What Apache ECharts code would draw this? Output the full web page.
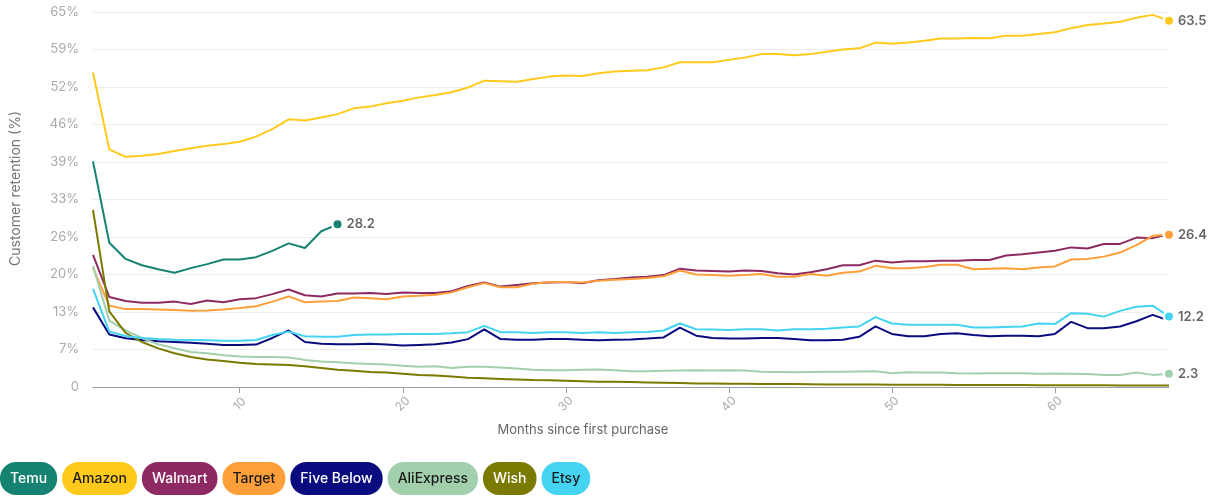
<!DOCTYPE html>
<html><head><meta charset="utf-8">
<script src="https://cdn.jsdelivr.net/npm/echarts@6/dist/echarts.min.js"></script>
<style>html,body{margin:0;padding:0;background:#fff}#c{width:1213px;height:496px}</style>
</head><body><div id="c"></div>
<script>
const months = [1,2,3,4,5,6,7,8,9,10,11,12,13,14,15,16,17,18,19,20,21,22,23,24,25,26,27,28,29,30,31,32,33,34,35,36,37,38,39,40,41,42,43,44,45,46,47,48,49,50,51,52,53,54,55,56,57,58,59,60,61,62,63,64,65,66,67];
const xTicks = [10,20,30,40,50,60];

const temu = [39.1,25.0,22.2,21.1,20.4,19.8,20.6,21.3,22.1,22.1,22.5,23.6,24.9,24.1,27.0,28.2];
const amazon = [54.5,41.2,39.9,40.1,40.4,40.9,41.4,41.8,42.1,42.5,
  43.4,44.7,46.4,46.2,46.7,47.3,48.3,48.6,49.2,49.6,
  50.2,50.6,51.1,51.9,53.1,53.0,52.9,53.4,53.8,54.0,
  53.9,54.4,54.7,54.8,54.9,55.4,56.3,56.3,56.3,56.7,
  57.1,57.7,57.7,57.5,57.7,58.1,58.5,58.7,59.7,59.5,
  59.7,60.0,60.4,60.4,60.5,60.45,60.9,60.9,61.2,61.5,
  62.2,62.75,63.0,63.3,64.0,64.5,63.5];
const walmart = [22.9,15.6,14.9,14.6,14.6,14.8,14.4,15.0,14.7,15.2,
  15.4,16.1,16.9,15.9,15.7,16.2,16.2,16.3,16.1,16.4,
  16.3,16.3,16.6,17.5,18.1,17.4,17.7,18.0,18.1,18.2,
  18.0,18.5,18.7,19.0,19.1,19.4,20.5,20.2,20.1,20.0,
  20.2,20.1,19.7,19.5,19.9,20.4,21.1,21.1,21.9,21.6,
  21.8,21.8,21.9,21.9,22.0,22.0,22.8,23.0,23.3,23.6,
  24.2,24.0,24.8,24.8,25.9,25.8,26.5];
const target = [20.6,14.1,13.5,13.5,13.45,13.35,13.2,13.25,13.45,13.7,
  14.0,14.8,15.7,14.7,14.8,14.9,15.5,15.4,15.2,15.7,
  15.8,16.0,16.4,17.3,18.0,17.3,17.3,17.9,18.2,18.2,
  18.1,18.4,18.6,18.7,18.9,19.2,20.2,19.5,19.4,19.3,
  19.4,19.6,19.1,19.1,19.6,19.3,19.8,20.0,21.0,20.6,
  20.6,20.8,21.2,21.2,20.4,20.5,20.6,20.4,20.7,20.9,
  22.1,22.2,22.6,23.3,24.6,26.2,26.4];
const fiveBelow = [13.8,9.1,8.45,8.15,7.95,7.8,7.65,7.5,7.3,7.3,
  7.35,8.5,9.8,7.8,7.5,7.4,7.4,7.5,7.35,7.2,
  7.3,7.4,7.7,8.3,10.0,8.3,8.2,8.2,8.3,8.3,
  8.2,8.1,8.2,8.25,8.4,8.6,10.3,8.9,8.5,8.4,
  8.4,8.5,8.5,8.3,8.1,8.1,8.2,8.7,10.5,9.2,
  8.8,8.8,9.2,9.3,9.0,8.8,8.9,8.9,8.8,9.2,
  11.3,10.2,10.2,10.5,11.4,12.5,11.5];
const aliExpress = [21.0,11.5,9.8,8.5,7.4,6.7,6.05,5.85,5.5,5.3,
  5.2,5.2,5.1,4.7,4.4,4.3,4.1,4.0,3.9,3.7,
  3.5,3.6,3.3,3.5,3.5,3.4,3.2,3.0,2.9,2.9,
  3.0,3.05,2.9,2.75,2.75,2.8,2.85,2.9,2.85,2.9,
  2.85,2.65,2.6,2.55,2.6,2.65,2.65,2.7,2.75,2.4,
  2.55,2.5,2.5,2.4,2.35,2.4,2.4,2.4,2.3,2.35,
  2.3,2.25,2.07,2.07,2.5,2.1,2.3];
const wish = [30.7,13.1,9.4,7.8,6.7,5.85,5.2,4.75,4.5,4.2,
  4.0,3.9,3.8,3.6,3.3,3.0,2.8,2.6,2.5,2.3,
  2.1,2.0,1.8,1.6,1.5,1.4,1.3,1.2,1.15,1.1,
  1.0,0.9,0.9,0.85,0.8,0.75,0.7,0.6,0.6,0.55,
  0.55,0.5,0.5,0.5,0.48,0.45,0.45,0.42,0.42,0.4,
  0.4,0.38,0.38,0.36,0.35,0.35,0.34,0.33,0.32,0.31,
  0.3,0.3,0.29,0.28,0.27,0.26,0.25];
const etsy = [17.0,9.6,8.85,8.5,8.3,8.2,8.15,8.1,8.0,8.0,
  8.15,9.0,9.6,8.8,8.7,8.7,9.0,9.1,9.1,9.2,
  9.2,9.2,9.3,9.5,10.6,9.5,9.5,9.35,9.5,9.5,
  9.35,9.5,9.35,9.5,9.55,9.8,11.0,10.0,9.95,9.9,
  10.0,10.0,9.8,10.0,10.0,10.1,10.3,10.5,12.1,11.0,
  10.8,10.8,10.8,10.8,10.3,10.3,10.4,10.5,11.0,10.9,
  12.8,12.7,12.2,13.2,13.9,14.1,12.2];

const seriesNames = ['Temu','Amazon','Walmart','Target','Five Below','AliExpress','Wish','Etsy'];
const seriesValues = [temu, amazon, walmart, target, fiveBelow, aliExpress, wish, etsy];
const colors = ['#168271','#FFCA1C','#8D2A63','#FF9F3A','#0B0B80','#A2D0AC','#7B7A00','#44D3F1'];
const legendText = ['#fff','#1a1a1a','#fff','#1a1a1a','#fff','#1a1a1a','#fff','#1a1a1a'];
const labeled = [true,true,false,true,false,true,false,true];

const FONT = 'Inter, "Noto Sans", sans-serif';

const series = seriesNames.map((name, k) => {
  const vals = seriesValues[k];
  const last = vals.length - 1;
  const s = {
    name, type: 'line',
    data: vals.map((v, i) => [months[i], v]),
    color: colors[k],
    lineStyle: { width: 2, color: colors[k] },
    itemStyle: { color: colors[k], borderColor: '#fff', borderWidth: 2.5 },
    symbol: 'circle',
    showSymbol: labeled[k],
    symbolSize: labeled[k] ? (val, p) => (p.dataIndex === last ? 10.5 : 0) : 0,
    emphasis: { disabled: true },
    animation: false,
    z: 2
  };
  if (labeled[k]) {
    s.endLabel = {
      show: true,
      formatter: p => p.value[1].toFixed(1),
      color: '#666', fontSize: 13, fontWeight: 600, fontFamily: FONT, distance: 9
    };
  }
  return s;
});

const chart = echarts.init(document.getElementById('c'), null, { renderer: 'canvas' });
chart.setOption({
  backgroundColor: '#fff',
  animation: false,
  grid: { left: 93, right: 44, top: 12, bottom: 109 },
  xAxis: {
    type: 'value', min: 1, max: 67,
    name: 'Months since first purchase',
    nameLocation: 'middle', nameGap: 37,
    nameTextStyle: { color: '#666', fontSize: 13, fontFamily: FONT, padding: [0, 96, 0, 0] },
    axisLine: { show: true, lineStyle: { color: '#9a9ea6', width: 1 } },
    axisTick: { show: true, length: 6, lineStyle: { color: '#9a9ea6' }, customValues: xTicks },
    axisLabel: { color: '#aaa', fontSize: 12, fontFamily: FONT, rotate: 45, align: 'center',
      verticalAlign: 'middle', margin: 17, customValues: xTicks },
    splitLine: { show: false }
  },
  yAxis: {
    type: 'value', min: 0, max: 65, interval: 6.5,
    name: 'Customer retention (%)',
    nameLocation: 'middle', nameGap: 70,
    nameTextStyle: { color: '#777', fontSize: 14, fontFamily: FONT, padding: [0, 0, 0, 22] },
    axisLine: { show: false }, axisTick: { show: false },
    axisLabel: { color: '#aaa', fontSize: 13, fontFamily: FONT, margin: 14,
      formatter: v => v === 0 ? '0' : Math.round(v) + '%' },
    splitLine: { lineStyle: { color: '#ececec', width: 1 } }
  },
  legend: {
    left: -10, bottom: -4, orient: 'horizontal',
    itemWidth: 0, itemHeight: 0, itemGap: 0,
    selectedMode: false,
    data: seriesNames.map((n, k) => ({
      name: n, icon: 'none',
      textStyle: {
        color: legendText[k], backgroundColor: colors[k], borderRadius: 16,
        padding: [8, 10], fontSize: 14, fontWeight: 500, fontFamily: FONT, lineHeight: 17
      }
    }))
  },
  series
});
</script>
</body></html>
